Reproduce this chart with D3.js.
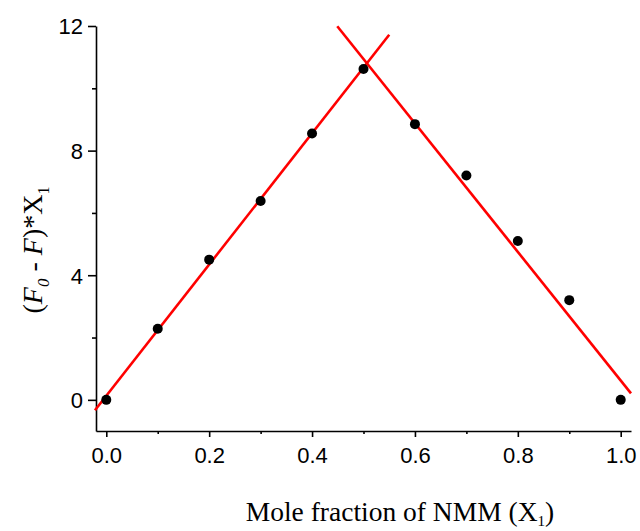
<!DOCTYPE html>
<html>
<head>
<meta charset="utf-8">
<script src="https://cdn.jsdelivr.net/npm/d3@7"></script>
<style>
  html, body { margin: 0; padding: 0; background: #fff; }
  svg { display: block; }
</style>
</head>
<body>
<svg id="chart" width="640" height="531"></svg>
<script>
// ---- data ----
const moleFraction = [0.0, 0.1, 0.2, 0.3, 0.4, 0.5, 0.6, 0.7, 0.8, 0.9, 1.0];
const quenchValues = [0.0, 2.28, 4.5, 6.38, 8.55, 10.62, 8.85, 7.2, 5.1, 3.2, 0.0];

// linear fits (rising branch, falling branch)
const fitSlopes = [21.07, -20.64];
const fitIntercepts = [0.13, 21.26];
const fitXStart = [-0.022, 0.449];
const fitXEnd = [0.55, 1.02];

const xTickValues = [0.0, 0.2, 0.4, 0.6, 0.8, 1.0];
const xTickLabels = ["0.0", "0.2", "0.4", "0.6", "0.8", "1.0"];
const xMinorTicks = [0.1, 0.3, 0.5, 0.7, 0.9];
const yTickValues = [0, 4, 8, 12];
const yTickLabels = ["0", "4", "8", "12"];
const yMinorTicks = [2, 6, 10];

const xDomain = [-0.02, 1.02];
const yDomain = [-1, 12];

// ---- drawing ----
(function () {
const svg = d3.select("#chart");
const mLeft = 96, mRight = 631, mTop = 26, mBottom = 431;

const x = d3.scaleLinear().domain(xDomain).range([mLeft, mRight]);
const y = d3.scaleLinear().domain(yDomain).range([mBottom, mTop]);

const sans = "'Liberation Sans', Arial, sans-serif";
const serif = "'Liberation Serif', 'Times New Roman', serif";

// X axis
const gx = svg.append("g").attr("transform", `translate(0,${mBottom})`);
gx.call(d3.axisBottom(x).tickValues(xTickValues)
    .tickFormat((d, i) => xTickLabels[i]).tickSize(6).tickPadding(10).tickSizeOuter(0));
const gxm = svg.append("g").attr("transform", `translate(0,${mBottom})`);
gxm.call(d3.axisBottom(x).tickValues(xMinorTicks).tickFormat("").tickSize(3).tickSizeOuter(0));
gxm.select(".domain").remove();

// Y axis
const gy = svg.append("g").attr("transform", `translate(${mLeft},0)`);
gy.call(d3.axisLeft(y).tickValues(yTickValues)
    .tickFormat((d, i) => yTickLabels[i]).tickSize(8).tickPadding(5).tickSizeOuter(0));
const gym = svg.append("g").attr("transform", `translate(${mLeft},0)`);
gym.call(d3.axisLeft(y).tickValues(yMinorTicks).tickFormat("").tickSize(4).tickSizeOuter(0));
gym.select(".domain").remove();

[gx, gxm, gy, gym].forEach(g => {
  g.attr("font-size", null).attr("font-family", null);
  g.selectAll("path, line").attr("stroke", "#000").attr("stroke-width", 1.6);
  g.selectAll("text").attr("fill", "#000").style("font-family", sans).style("font-size", "22px");
});
gy.selectAll("text").attr("dy", "0.36em");

// fit lines
const line = d3.line().x(d => x(d[0])).y(d => y(d[1]));
fitSlopes.forEach((m, i) => {
  const pts = [fitXStart[i], fitXEnd[i]].map(v => [v, fitIntercepts[i] + m * v]);
  svg.append("path").attr("d", line(pts))
    .attr("fill", "none").attr("stroke", "#ff0000").attr("stroke-width", 2.6);
});

// points
svg.append("g").selectAll("circle")
  .data(moleFraction.map((v, i) => [v, quenchValues[i]]))
  .join("circle")
  .attr("cx", d => x(d[0])).attr("cy", d => y(d[1]))
  .attr("r", 5).attr("fill", "#000");

// X title
const xt = svg.append("text")
  .attr("x", 400).attr("y", 521)
  .attr("text-anchor", "middle")
  .style("font-family", serif).style("font-size", "27.5px").attr("fill", "#000");
xt.append("tspan").text("Mole fraction of NMM (X");
xt.append("tspan").attr("dy", 5).style("font-size", "15px").text("1");
xt.append("tspan").attr("dy", -5).text(")");

// Y title
const yt = svg.append("text")
  .attr("transform", "translate(42,250) rotate(-90)")
  .attr("text-anchor", "middle")
  .style("font-family", serif).style("font-size", "28px").attr("fill", "#000");
yt.append("tspan").text("(");
yt.append("tspan").style("font-style", "italic").text("F");
yt.append("tspan").attr("dy", 7).style("font-style", "italic").style("font-size", "17px").text("0");
yt.append("tspan").attr("dy", -7).text(" - ");
yt.append("tspan").style("font-style", "italic").text("F");
yt.append("tspan").text(")*X");
yt.append("tspan").attr("dy", 7).style("font-size", "16px").text("1");
})();
</script>
</body>
</html>
